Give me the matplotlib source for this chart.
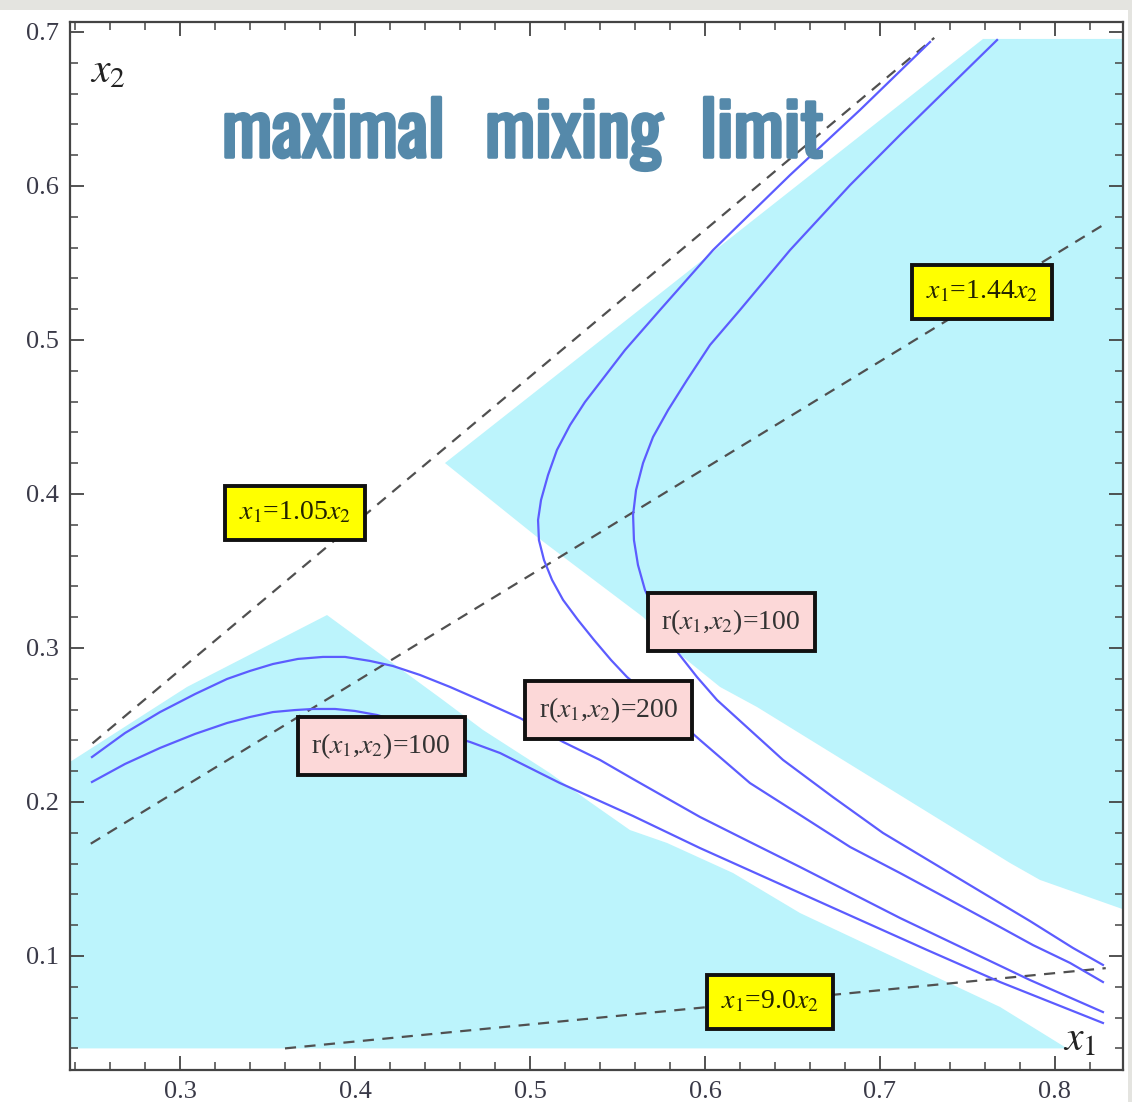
import numpy as np
import matplotlib.pyplot as plt
import matplotlib.patheffects as pe
from matplotlib.patches import Rectangle, Polygon
from matplotlib.ticker import MultipleLocator

plt.rcParams['mathtext.fontset'] = 'stix'

# === contours r(x1,x2) ===
hump_hi_x = [0.2497, 0.2686, 0.2886, 0.3086, 0.3269, 0.3400, 0.3531, 0.3674, 0.3817, 0.3943, 0.4086, 0.4217, 0.4371,
             0.4543, 0.4714, 0.4943, 0.5189, 0.5400, 0.5589, 0.5971, 0.6257, 0.6543, 0.7114, 0.7497, 0.7857, 0.8274]
hump_hi_y = [0.2292, 0.2448, 0.2584, 0.2701, 0.2799, 0.2851, 0.2896, 0.2929, 0.2942, 0.2942, 0.2916, 0.2883, 0.2825,
             0.2747, 0.2662, 0.2545, 0.2390, 0.2273, 0.2149, 0.1903, 0.1740, 0.1578, 0.1247, 0.1039, 0.0844, 0.0636]
hump_lo_x = [0.2497, 0.2686, 0.2886, 0.3086, 0.3269, 0.3400, 0.3531, 0.3657, 0.3760, 0.3886, 0.4000, 0.4126, 0.4314,
             0.4486, 0.4657, 0.4829, 0.5171, 0.5589, 0.5971, 0.6543, 0.6886, 0.7269, 0.7686, 0.8274]
hump_lo_y = [0.2130, 0.2247, 0.2351, 0.2442, 0.2513, 0.2552, 0.2584, 0.2597, 0.2604, 0.2604, 0.2591, 0.2565, 0.2500,
             0.2448, 0.2390, 0.2318, 0.2123, 0.1909, 0.1701, 0.1409, 0.1234, 0.1039, 0.0831, 0.0565]
arc_in_x = [0.7286, 0.6886, 0.6486, 0.6046, 0.5743, 0.5543, 0.5411, 0.5314, 0.5229, 0.5154, 0.5103, 0.5063, 0.5046,
            0.5051, 0.5080, 0.5126, 0.5189, 0.5274, 0.5366, 0.5463, 0.5554, 0.5743, 0.5971, 0.6257, 0.6543, 0.6829,
            0.7114, 0.7400, 0.7686, 0.7874, 0.8086, 0.8274]
arc_in_y = [0.6935, 0.6494, 0.6071, 0.5584, 0.5195, 0.4935, 0.4740, 0.4597, 0.4448, 0.4286, 0.4123, 0.3961, 0.3831,
            0.3701, 0.3571, 0.3442, 0.3312, 0.3182, 0.3052, 0.2922, 0.2812, 0.2630, 0.2403, 0.2123, 0.1916, 0.1708,
            0.1539, 0.1364, 0.1188, 0.1071, 0.0955, 0.0831]
arc_out_x = [0.7669, 0.7114, 0.6829, 0.6486, 0.6200, 0.6029, 0.5897, 0.5789, 0.5703, 0.5646, 0.5606, 0.5589, 0.5594,
             0.5617, 0.5657, 0.5714, 0.5777, 0.5846, 0.5954, 0.6069, 0.6257, 0.6446, 0.6731, 0.7017, 0.7303, 0.7589,
             0.7857, 0.8103, 0.8274]
arc_out_y = [0.6948, 0.6331, 0.6006, 0.5584, 0.5195, 0.4968, 0.4740, 0.4545, 0.4370, 0.4201, 0.4026, 0.3864, 0.3701,
             0.3539, 0.3377, 0.3234, 0.3097, 0.2968, 0.2812, 0.2662, 0.2468, 0.2273, 0.2032, 0.1799, 0.1604, 0.1409,
             0.1227, 0.1052, 0.0942]

# === zones autorisées (cyan) ===
right_zone_x = [0.4514, 0.7589, 0.845, 0.845, 0.7914, 0.7743, 0.6297, 0.6086, 0.5874, 0.5646, 0.5040]
right_zone_y = [0.4201, 0.6955, 0.6955, 0.1279, 0.1494, 0.1604, 0.2617, 0.2747, 0.2942, 0.3201, 0.3721]
left_zone_x = [0.23, 0.3040, 0.3840, 0.4503, 0.4731, 0.5114, 0.5326, 0.5571, 0.5783, 0.6160, 0.6543, 0.7114, 0.7686, 0.8069, 0.23]
left_zone_y = [0.2208, 0.2747, 0.3214, 0.2662, 0.2468, 0.2188, 0.2013, 0.1818, 0.1734, 0.1539, 0.1279, 0.0974, 0.0669, 0.04, 0.04]

# === droites x1 = k x2 ===
ratios = [1.05, 1.44, 9.0]
ratio_xrange = [(0.25, 0.731), (0.249, 0.829), (0.36, 0.829)]
ratio_labels = [r'$x_1$=1.05$x_2$', r'$x_1$=1.44$x_2$', r'$x_1$=9.0$x_2$']
ratio_label_pos = [(0.3657, 0.3877), (0.7583, 0.5312), (0.6371, 0.0701)]

r_labels = [r'r($x_1$,$x_2$)=100', r'r($x_1$,$x_2$)=100', r'r($x_1$,$x_2$)=200']
r_label_pos = [(0.4149, 0.2364), (0.6149, 0.3169), (0.5451, 0.2597)]

title_words = ['maximal', 'mixing', 'limit']
title_x = [0.3240, 0.4743, 0.5971]

fig = plt.figure(figsize=(11.32, 11.02), dpi=100, facecolor='#e4e4e0')
fig.patches.append(Rectangle((0, 0), 1128 / 1132, 1092 / 1102, transform=fig.transFigure,
                             facecolor='white', edgecolor='none', zorder=-10))
ax = fig.add_axes([70 / 1132, 32 / 1102, 1053 / 1132, 1048 / 1102])

cyan = '#bcf4fc'
ax.add_patch(Polygon(np.column_stack([right_zone_x, right_zone_y]), closed=True,
                     facecolor=cyan, edgecolor='none', zorder=1))
ax.add_patch(Polygon(np.column_stack([left_zone_x, left_zone_y]), closed=True,
                     facecolor=cyan, edgecolor='none', zorder=1))

for k, (xa, xb) in zip(ratios, ratio_xrange):
    xs = np.array([xa, xb])
    ax.plot(xs, xs / k, color='#505050', lw=1.6, dashes=(5, 3.8), zorder=2)

for xs, ys in [(hump_hi_x, hump_hi_y), (hump_lo_x, hump_lo_y),
               (arc_in_x, arc_in_y), (arc_out_x, arc_out_y)]:
    ax.plot(xs, ys, color='#5c5cff', lw=1.6, zorder=3, solid_joinstyle='round')

for lab, (x, y) in zip(ratio_labels, ratio_label_pos):
    ax.text(x, y, lab, ha='center', va='center', fontsize=20, family='Liberation Serif',
            color='#222200', zorder=5,
            bbox=dict(boxstyle='square,pad=0.5', facecolor='#ffff00', edgecolor='#111111', lw=2.8))
for lab, (x, y) in zip(r_labels, r_label_pos):
    ax.text(x, y, lab, ha='center', va='center', fontsize=20, family='Liberation Serif',
            color='#333333', zorder=5,
            bbox=dict(boxstyle='square,pad=0.5', facecolor='#fcd8d8', edgecolor='#111111', lw=2.8))

# titre en police condensée, épaissie par un contour
title_color = '#5589aa'
for w, x in zip(title_words, title_x):
    ax.text(x, 0.6188, w, fontsize=53, fontweight='bold', family=['Oswald', 'DejaVu Sans'],
            color=title_color, zorder=6, ha='left', va='baseline',
            path_effects=[pe.withStroke(linewidth=2.5, foreground=title_color)])

ax.text(0.2486, 0.6675, r'$x_2$', fontsize=30, color='#222222', zorder=6)
ax.text(0.8046, 0.039, r'$x_1$', fontsize=30, color='#222222', zorder=6)

ax.set_xlim(0.23714, 0.83886)
ax.set_ylim(0.02597, 0.70649)
ax.xaxis.set_major_locator(MultipleLocator(0.1))
ax.yaxis.set_major_locator(MultipleLocator(0.1))
ax.xaxis.set_minor_locator(MultipleLocator(0.02))
ax.yaxis.set_minor_locator(MultipleLocator(0.02))
ax.tick_params(which='both', direction='in', top=True, right=True, color='#444444')
ax.tick_params(which='major', length=10, width=1.3, labelsize=19, labelcolor='#3a3a48', pad=8)
ax.tick_params(which='minor', length=5.5, width=1.1)
for lab in ax.get_xticklabels() + ax.get_yticklabels():
    lab.set_family('Liberation Serif')
for sp in ax.spines.values():
    sp.set_color('#444444')
    sp.set_linewidth(1.6)

fig.savefig('out.png', dpi=100, facecolor=fig.get_facecolor())
